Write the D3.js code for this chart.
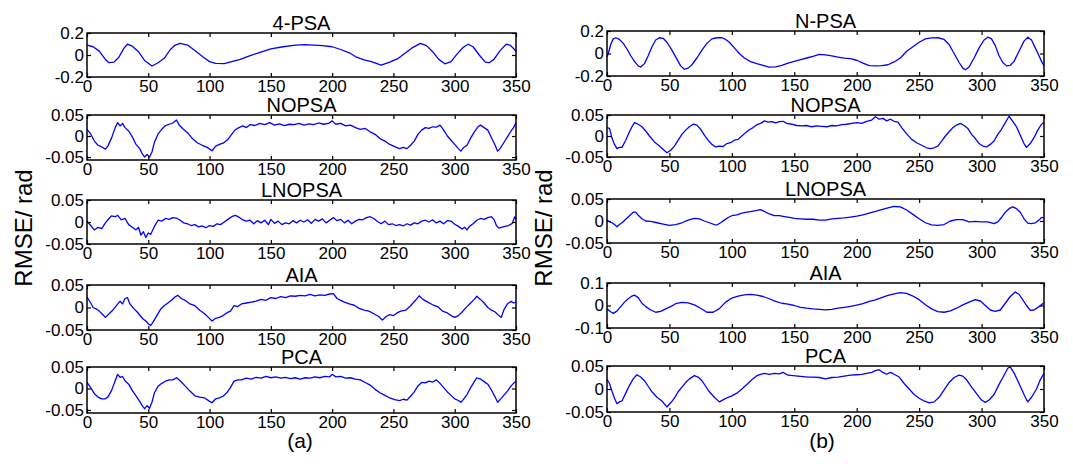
<!DOCTYPE html>
<html><head><meta charset="utf-8">
<script src="https://cdn.jsdelivr.net/npm/d3@7"></script>
<style>
body{margin:0;background:#fff}
svg{display:block}
text{font-family:Arial,"Liberation Sans",sans-serif;fill:#000}
</style>
</head><body>
<svg id="c" width="1073" height="464"></svg>
<script>
// ---------- data ----------
const xTicks = [0, 50, 100, 150, 200, 250, 300, 350];
const titlesA = ["4-PSA", "NOPSA", "LNOPSA", "AIA", "PCA"];
const titlesB = ["N-PSA", "NOPSA", "LNOPSA", "AIA", "PCA"];
const yTicksA = [[-0.2, 0, 0.2], [-0.05, 0, 0.05], [-0.05, 0, 0.05], [-0.05, 0, 0.05], [-0.05, 0, 0.05]];
const yTicksB = [[-0.2, 0, 0.2], [-0.05, 0, 0.05], [-0.05, 0, 0.05], [-0.1, 0, 0.1], [-0.05, 0, 0.05]];
const yLimA = [[-0.2, 0.2], [-0.057, 0.05], [-0.05, 0.05], [-0.05, 0.05], [-0.057, 0.05]];
const yLimB = [[-0.2, 0.2], [-0.05, 0.05], [-0.05, 0.05], [-0.1, 0.1], [-0.05, 0.05]];
const yLabel = "RMSE/ rad";
const captions = ["(a)", "(b)"];

const psa4A = [[0,0.09],[5,0.075],[10,0.035],[15,-0.04],[18,-0.07],[22,-0.065],[26,-0.02],[30,0.06],[33,0.098],[37,0.08],[42,0.03],[47,-0.05],[53,-0.1],[58,-0.07],[63,-0.03],[68,0.05],[72,0.09],[76,0.105],[82,0.09],[88,0.04],[95,-0.02],[100,-0.06],[105,-0.077],[112,-0.078],[118,-0.06],[125,-0.04],[132,-0.01],[140,0.02],[150,0.055],[160,0.075],[170,0.09],[178,0.095],[185,0.09],[192,0.085],[200,0.075],[207,0.05],[214,0.02],[220,-0.02],[226,-0.045],[232,-0.06],[240,-0.092],[247,-0.065],[254,-0.03],[260,0.02],[266,0.07],[272,0.105],[277,0.085],[282,0.03],[287,-0.04],[292,-0.08],[297,-0.06],[302,0.01],[307,0.07],[311,0.098],[315,0.075],[320,0.0],[325,-0.065],[328,-0.07],[332,-0.04],[337,0.04],[342,0.098],[345,0.09],[348,0.06],[350,0.03]];
const nopsaA = [[0,0.016],[3,0.005],[6,-0.012],[9,-0.022],[12,-0.026],[15,-0.031],[17,-0.024],[20,-0.005],[23,0.02],[25,0.032],[27,0.024],[29,0.03],[31,0.02],[34,0.012],[37,-0.002],[40,-0.02],[43,-0.03],[45,-0.042],[47,-0.05],[49,-0.044],[51,-0.05],[53,-0.038],[55,-0.015],[58,0.005],[61,0.016],[64,0.025],[67,0.028],[70,0.031],[73,0.038],[75,0.027],[78,0.018],[82,0.008],[86,-0.006],[90,-0.016],[94,-0.022],[98,-0.027],[102,-0.035],[105,-0.024],[108,-0.02],[111,-0.017],[115,-0.008],[118,0.004],[121,0.015],[124,0.02],[127,0.024],[130,0.02],[133,0.027],[137,0.025],[141,0.03],[145,0.027],[149,0.032],[153,0.026],[157,0.029],[161,0.025],[165,0.028],[169,0.027],[173,0.03],[177,0.026],[181,0.029],[185,0.027],[189,0.031],[193,0.028],[197,0.03],[200,0.036],[203,0.028],[207,0.03],[211,0.024],[215,0.026],[219,0.02],[223,0.016],[227,0.018],[231,0.01],[235,0.004],[239,-0.006],[243,-0.012],[247,-0.02],[251,-0.025],[255,-0.03],[258,-0.027],[261,-0.03],[264,-0.022],[267,-0.012],[270,0.004],[273,0.014],[276,0.02],[279,0.018],[282,0.022],[285,0.021],[288,0.026],[291,0.014],[294,0.0],[297,-0.01],[300,-0.02],[303,-0.03],[305,-0.036],[307,-0.028],[310,-0.022],[313,-0.005],[316,0.01],[319,0.022],[321,0.026],[324,0.02],[327,0.014],[330,-0.004],[333,-0.022],[335,-0.036],[337,-0.03],[340,-0.016],[343,-0.002],[346,0.012],[348,0.02],[350,0.032]];
const lnopsaA = [[0,0.002],[3,-0.008],[6,-0.018],[9,-0.012],[12,-0.015],[15,-0.002],[18,0.008],[20,0.014],[23,0.012],[25,0.015],[28,0.005],[31,0.008],[34,-0.006],[37,-0.012],[40,-0.018],[42,-0.012],[44,-0.03],[46,-0.022],[48,-0.035],[50,-0.025],[52,-0.028],[55,-0.01],[58,0.004],[61,0.002],[64,0.008],[67,0.006],[70,0.01],[73,0.009],[76,0.004],[79,-0.002],[82,-0.004],[85,-0.008],[88,-0.006],[91,-0.011],[94,-0.009],[97,-0.013],[100,-0.008],[103,-0.01],[106,-0.004],[109,-0.006],[112,0.0],[115,0.006],[118,0.012],[121,0.015],[124,0.011],[127,0.005],[130,0.002],[133,0.004],[136,-0.004],[139,0.003],[142,-0.002],[145,0.004],[148,-0.006],[150,0.006],[153,-0.003],[156,0.002],[159,-0.006],[162,-0.002],[165,-0.004],[168,0.003],[171,-0.002],[174,0.004],[177,0.0],[180,0.005],[183,-0.003],[186,0.006],[189,0.002],[192,0.007],[195,-0.002],[198,0.004],[201,0.01],[204,0.003],[207,0.006],[210,-0.002],[213,0.004],[216,-0.004],[219,0.002],[222,0.006],[225,0.005],[228,0.01],[231,0.012],[234,0.008],[237,0.001],[240,-0.004],[243,0.002],[246,-0.006],[249,-0.004],[252,-0.008],[255,-0.006],[258,-0.009],[261,-0.004],[264,-0.007],[267,-0.002],[270,-0.004],[273,0.002],[276,0.004],[279,0.0],[282,0.005],[285,-0.002],[288,0.002],[291,-0.004],[294,0.003],[297,0.002],[300,-0.005],[303,-0.01],[306,-0.016],[308,-0.012],[310,-0.018],[312,-0.01],[315,-0.004],[318,0.004],[321,0.008],[324,0.006],[327,0.01],[330,0.012],[332,0.006],[334,-0.008],[336,-0.014],[338,-0.012],[341,-0.01],[344,-0.008],[347,-0.003],[349,0.012],[350,0.006]];
const aiaA = [[0,0.023],[3,0.01],[5,0.0],[8,-0.004],[10,-0.008],[13,-0.016],[15,-0.022],[18,-0.014],[21,-0.006],[24,0.004],[27,0.014],[29,0.008],[31,0.02],[33,0.022],[35,0.008],[38,-0.002],[41,-0.01],[44,-0.02],[46,-0.026],[48,-0.03],[50,-0.036],[52,-0.04],[54,-0.032],[57,-0.018],[60,-0.004],[63,0.004],[66,0.01],[69,0.016],[72,0.024],[74,0.027],[77,0.02],[80,0.016],[84,0.008],[88,0.004],[92,-0.006],[96,-0.014],[99,-0.022],[102,-0.03],[105,-0.024],[108,-0.022],[111,-0.018],[114,-0.012],[117,-0.008],[120,0.004],[123,0.002],[126,0.008],[130,0.01],[134,0.012],[138,0.014],[142,0.018],[146,0.016],[150,0.022],[154,0.02],[158,0.024],[162,0.022],[166,0.026],[170,0.025],[174,0.027],[178,0.026],[182,0.029],[186,0.026],[190,0.028],[194,0.027],[198,0.03],[201,0.031],[204,0.02],[207,0.016],[210,0.012],[214,0.008],[218,0.005],[222,-0.002],[226,-0.006],[230,-0.008],[234,-0.014],[238,-0.02],[241,-0.028],[244,-0.02],[247,-0.016],[250,-0.018],[253,-0.012],[256,-0.008],[260,-0.006],[264,0.004],[268,0.016],[271,0.026],[274,0.018],[278,0.012],[282,0.006],[286,0.002],[290,-0.008],[294,-0.012],[297,-0.018],[300,-0.022],[303,-0.018],[306,-0.01],[310,0.002],[313,0.01],[316,0.018],[318,0.025],[321,0.018],[324,0.01],[327,0.0],[330,-0.006],[333,-0.01],[336,-0.018],[338,-0.022],[340,-0.006],[343,0.008],[346,0.014],[348,0.01],[350,0.012]];
const pcaA = [[0,0.014],[3,0.002],[6,-0.012],[9,-0.02],[12,-0.024],[15,-0.024],[17,-0.02],[20,-0.005],[23,0.018],[25,0.033],[27,0.026],[29,0.028],[31,0.018],[34,0.01],[37,-0.005],[40,-0.017],[43,-0.03],[45,-0.04],[47,-0.047],[49,-0.04],[51,-0.046],[53,-0.032],[55,-0.01],[58,0.005],[61,0.012],[64,0.017],[67,0.02],[70,0.02],[73,0.025],[76,0.018],[80,0.006],[84,-0.006],[88,-0.017],[92,-0.02],[96,-0.022],[100,-0.03],[102,-0.033],[105,-0.024],[108,-0.022],[111,-0.018],[114,-0.01],[117,0.002],[120,0.017],[123,0.02],[126,0.02],[130,0.024],[134,0.022],[138,0.026],[142,0.024],[146,0.028],[150,0.025],[154,0.027],[158,0.024],[162,0.026],[166,0.023],[170,0.025],[174,0.022],[178,0.025],[182,0.024],[186,0.027],[190,0.025],[194,0.028],[198,0.027],[200,0.033],[203,0.027],[207,0.028],[211,0.024],[215,0.025],[219,0.022],[223,0.02],[227,0.014],[231,0.008],[235,-0.002],[239,-0.01],[243,-0.016],[247,-0.022],[251,-0.026],[255,-0.028],[258,-0.025],[261,-0.027],[264,-0.018],[267,-0.008],[270,0.006],[273,0.014],[276,0.013],[279,0.017],[282,0.015],[285,0.02],[288,0.012],[291,0.002],[294,-0.008],[297,-0.016],[300,-0.024],[303,-0.028],[305,-0.032],[307,-0.026],[310,-0.014],[313,0.002],[316,0.016],[318,0.025],[321,0.022],[324,0.016],[327,0.01],[330,-0.004],[333,-0.02],[335,-0.032],[337,-0.026],[340,-0.016],[343,-0.006],[346,0.006],[348,0.012],[350,0.017]];

const npsaB = [[0,-0.03],[1,0.0],[3,0.08],[5,0.13],[7,0.14],[10,0.125],[13,0.09],[16,0.04],[19,-0.02],[22,-0.07],[25,-0.11],[27,-0.12],[30,-0.09],[33,-0.02],[36,0.06],[39,0.12],[42,0.14],[45,0.135],[48,0.1],[52,0.03],[56,-0.05],[59,-0.11],[62,-0.14],[65,-0.13],[68,-0.1],[72,-0.04],[76,0.03],[80,0.09],[84,0.13],[88,0.14],[92,0.14],[95,0.125],[98,0.1],[102,0.05],[106,0.0],[110,-0.04],[115,-0.072],[120,-0.09],[125,-0.105],[130,-0.122],[135,-0.118],[140,-0.105],[145,-0.085],[150,-0.07],[155,-0.055],[160,-0.04],[165,-0.025],[170,-0.008],[175,-0.012],[180,-0.022],[185,-0.032],[190,-0.042],[195,-0.046],[200,-0.06],[205,-0.085],[210,-0.108],[215,-0.11],[220,-0.108],[225,-0.1],[230,-0.075],[235,-0.04],[240,0.02],[245,0.06],[250,0.1],[255,0.13],[260,0.138],[265,0.14],[270,0.125],[274,0.08],[278,0.0],[282,-0.08],[285,-0.13],[287,-0.145],[290,-0.12],[294,-0.04],[298,0.05],[302,0.12],[305,0.145],[308,0.13],[311,0.07],[314,-0.02],[317,-0.08],[320,-0.11],[323,-0.105],[326,-0.07],[330,0.02],[334,0.11],[337,0.145],[340,0.12],[343,0.05],[346,-0.02],[348,-0.07],[350,-0.11]];
const nopsaB = [[0,0.02],[2,0.018],[4,-0.005],[6,-0.02],[8,-0.03],[10,-0.027],[12,-0.027],[15,-0.01],[18,0.01],[20,0.022],[22,0.032],[25,0.028],[28,0.022],[31,0.012],[34,0.0],[38,-0.014],[42,-0.024],[45,-0.032],[48,-0.04],[51,-0.034],[54,-0.024],[57,-0.01],[60,0.004],[63,0.014],[66,0.022],[69,0.028],[72,0.026],[75,0.016],[78,0.002],[81,-0.01],[84,-0.02],[87,-0.026],[90,-0.024],[93,-0.025],[96,-0.018],[99,-0.016],[102,-0.01],[105,-0.008],[108,0.0],[111,0.008],[114,0.015],[117,0.02],[120,0.027],[123,0.03],[126,0.036],[129,0.033],[132,0.034],[135,0.031],[138,0.034],[141,0.035],[144,0.03],[148,0.028],[152,0.025],[156,0.024],[160,0.025],[164,0.022],[168,0.024],[172,0.023],[176,0.022],[180,0.025],[184,0.024],[188,0.027],[192,0.028],[196,0.03],[200,0.032],[204,0.03],[208,0.035],[212,0.038],[215,0.046],[218,0.04],[221,0.042],[224,0.036],[227,0.04],[230,0.035],[233,0.033],[236,0.02],[240,0.005],[244,-0.008],[248,-0.016],[252,-0.022],[256,-0.028],[259,-0.03],[262,-0.028],[265,-0.024],[268,-0.012],[271,0.0],[274,0.01],[277,0.02],[280,0.026],[283,0.03],[286,0.025],[289,0.018],[292,0.004],[295,-0.006],[298,-0.018],[301,-0.024],[304,-0.026],[307,-0.02],[310,-0.012],[313,0.004],[316,0.016],[319,0.032],[322,0.047],[325,0.035],[328,0.022],[331,0.002],[334,-0.018],[336,-0.027],[339,-0.018],[342,-0.004],[345,0.014],[348,0.028],[350,0.032]];
const lnopsaB = [[0,0.003],[2,-0.002],[4,-0.004],[6,-0.008],[8,-0.013],[10,-0.008],[12,-0.004],[15,0.004],[18,0.012],[21,0.02],[23,0.02],[25,0.013],[28,0.005],[31,0.0],[35,-0.001],[40,-0.004],[45,-0.007],[50,-0.01],[55,-0.008],[60,-0.004],[65,0.002],[70,0.006],[74,0.005],[78,0.0],[82,-0.004],[86,-0.008],[88,-0.009],[91,-0.004],[94,0.002],[97,0.008],[100,0.012],[104,0.014],[108,0.018],[112,0.02],[116,0.022],[120,0.024],[123,0.026],[126,0.022],[130,0.016],[134,0.012],[138,0.012],[142,0.01],[146,0.008],[150,0.006],[155,0.005],[160,0.004],[165,0.004],[170,0.002],[175,0.002],[180,0.005],[185,0.006],[190,0.007],[195,0.009],[200,0.011],[205,0.014],[210,0.018],[215,0.022],[220,0.026],[225,0.03],[230,0.033],[235,0.032],[240,0.025],[245,0.015],[250,0.005],[255,-0.004],[260,-0.009],[265,-0.01],[270,-0.008],[275,0.0],[280,0.003],[285,0.003],[290,-0.002],[295,-0.001],[300,-0.002],[305,-0.002],[310,-0.006],[313,-0.002],[316,0.008],[319,0.02],[322,0.028],[325,0.032],[328,0.028],[331,0.02],[334,0.005],[337,-0.005],[340,-0.006],[343,-0.004],[346,0.002],[348,0.008],[350,0.007]];
const aiaB = [[0,-0.015],[3,-0.028],[5,-0.035],[8,-0.025],[11,-0.005],[14,0.015],[17,0.03],[20,0.042],[22,0.046],[25,0.035],[28,0.01],[31,-0.005],[35,-0.02],[39,-0.03],[43,-0.026],[47,-0.015],[51,-0.005],[55,0.008],[60,0.014],[65,0.012],[70,0.003],[75,-0.012],[80,-0.03],[85,-0.03],[90,-0.014],[95,0.015],[100,0.033],[105,0.042],[110,0.047],[115,0.049],[120,0.046],[125,0.04],[130,0.03],[135,0.018],[140,0.01],[145,0.006],[150,0.0],[155,-0.008],[160,-0.012],[165,-0.015],[170,-0.017],[175,-0.019],[180,-0.017],[185,-0.012],[190,-0.008],[195,-0.004],[200,0.002],[205,0.008],[210,0.018],[215,0.025],[220,0.035],[225,0.045],[230,0.052],[235,0.057],[240,0.054],[245,0.042],[250,0.026],[255,0.003],[260,-0.015],[265,-0.027],[270,-0.03],[275,-0.024],[280,-0.012],[285,0.003],[290,0.015],[295,0.026],[299,0.02],[303,0.0],[307,-0.02],[311,-0.026],[315,-0.02],[319,0.01],[323,0.04],[327,0.06],[330,0.05],[333,0.025],[336,0.0],[339,-0.022],[342,-0.02],[346,-0.005],[350,0.012]];
const pcaB = [[0,0.021],[2,0.012],[4,-0.005],[6,-0.02],[8,-0.032],[10,-0.028],[12,-0.026],[15,-0.009],[18,0.008],[21,0.022],[24,0.031],[27,0.026],[30,0.018],[33,0.006],[36,-0.006],[40,-0.018],[44,-0.026],[48,-0.039],[51,-0.03],[54,-0.02],[57,-0.006],[60,0.004],[63,0.014],[66,0.022],[70,0.029],[73,0.026],[76,0.018],[79,0.006],[82,-0.006],[86,-0.018],[90,-0.028],[94,-0.022],[97,-0.018],[100,-0.015],[104,-0.009],[108,0.0],[112,0.01],[116,0.02],[120,0.029],[123,0.032],[126,0.034],[130,0.032],[134,0.034],[138,0.033],[141,0.036],[145,0.03],[149,0.029],[153,0.028],[157,0.027],[161,0.026],[165,0.026],[170,0.025],[175,0.022],[180,0.025],[185,0.026],[190,0.028],[195,0.03],[200,0.031],[204,0.032],[208,0.034],[212,0.036],[215,0.04],[218,0.042],[221,0.036],[224,0.032],[227,0.036],[230,0.032],[234,0.026],[238,0.012],[242,0.0],[246,-0.012],[250,-0.02],[254,-0.026],[258,-0.03],[262,-0.028],[266,-0.018],[270,-0.002],[274,0.014],[278,0.025],[282,0.03],[285,0.028],[288,0.02],[292,0.004],[296,-0.01],[300,-0.024],[303,-0.029],[306,-0.024],[310,-0.012],[314,0.01],[318,0.03],[321,0.045],[323,0.048],[326,0.035],[329,0.018],[332,0.0],[335,-0.018],[337,-0.028],[340,-0.018],[344,0.0],[347,0.02],[350,0.034]];

const seriesA = [psa4A, nopsaA, lnopsaA, aiaA, pcaA];
const seriesB = [npsaB, nopsaB, lnopsaB, aiaB, pcaB];

// ---------- layout ----------
const columns = [
  {x0: 87, x1: 516, boxes: [[33,77],[115,160],[200,244],[285,330],[367,413]], titles: titlesA, ticks: yTicksA, lims: yLimA, series: seriesA, labelX: 32, capX: 300},
  {x0: 607, x1: 1044, boxes: [[31,76],[115,157],[199,243],[283,328],[366,412]], titles: titlesB, ticks: yTicksB, lims: yLimB, series: seriesB, labelX: 552, capX: 822}
];

const svg = d3.select("#c");
const fmt = d => d === 0 ? "0" : String(d);

columns.forEach(col => {
  const x = d3.scaleLinear().domain([0, 350]).range([col.x0, col.x1]);
  col.boxes.forEach((b, i) => {
    const y = d3.scaleLinear().domain(col.lims[i]).range([b[1], b[0]]);
    const g = svg.append("g");
    g.append("path")
      .datum(col.series[i])
      .attr("fill", "none")
      .attr("stroke", "#0000ff")
      .attr("stroke-width", 1.3)
      .attr("stroke-linejoin", "round")
      .attr("d", d3.line().x(d => x(d[0])).y(d => y(d[1])));
    const ax = g.append("g").attr("transform", `translate(0,${b[1]})`)
      .call(d3.axisBottom(x).tickValues(xTicks).tickSizeInner(-4).tickSizeOuter(0).tickPadding(3).tickFormat(fmt));
    const axT = g.append("g").attr("transform", `translate(0,${b[0]})`)
      .call(d3.axisTop(x).tickValues(xTicks).tickSizeInner(-4).tickSizeOuter(0).tickFormat(""));
    const ayL = g.append("g").attr("transform", `translate(${col.x0},0)`)
      .call(d3.axisLeft(y).tickValues(col.ticks[i]).tickSizeInner(-4).tickSizeOuter(0).tickPadding(3).tickFormat(fmt));
    const ayR = g.append("g").attr("transform", `translate(${col.x1},0)`)
      .call(d3.axisRight(y).tickValues(col.ticks[i]).tickSizeInner(-4).tickSizeOuter(0).tickFormat(""));
    [ax, axT, ayL, ayR].forEach(a => {
      a.select(".domain").remove();
      a.selectAll("line").attr("stroke", "#000").attr("stroke-width", 1.2);
      a.selectAll("text").attr("font-size", 17).attr("font-family", "Arial, 'Liberation Sans', sans-serif").attr("fill", "#000");
    });
    g.append("rect")
      .attr("x", col.x0).attr("y", b[0])
      .attr("width", col.x1 - col.x0).attr("height", b[1] - b[0])
      .attr("fill", "none").attr("stroke", "#000").attr("stroke-width", 1.5);
    g.append("text")
      .attr("x", (col.x0 + col.x1) / 2).attr("y", b[0] - 3)
      .attr("text-anchor", "middle").attr("font-size", 20)
      .text(col.titles[i]);
  });
  svg.append("text")
    .attr("transform", `translate(${col.labelX},228) rotate(-90)`)
    .attr("text-anchor", "middle").attr("font-size", 24)
    .text(yLabel);
});

svg.selectAll(null).data(captions).enter().append("text")
  .attr("x", (d, i) => columns[i].capX).attr("y", 448)
  .attr("text-anchor", "middle").attr("font-size", 21)
  .text(d => d);
</script>
</body></html>
